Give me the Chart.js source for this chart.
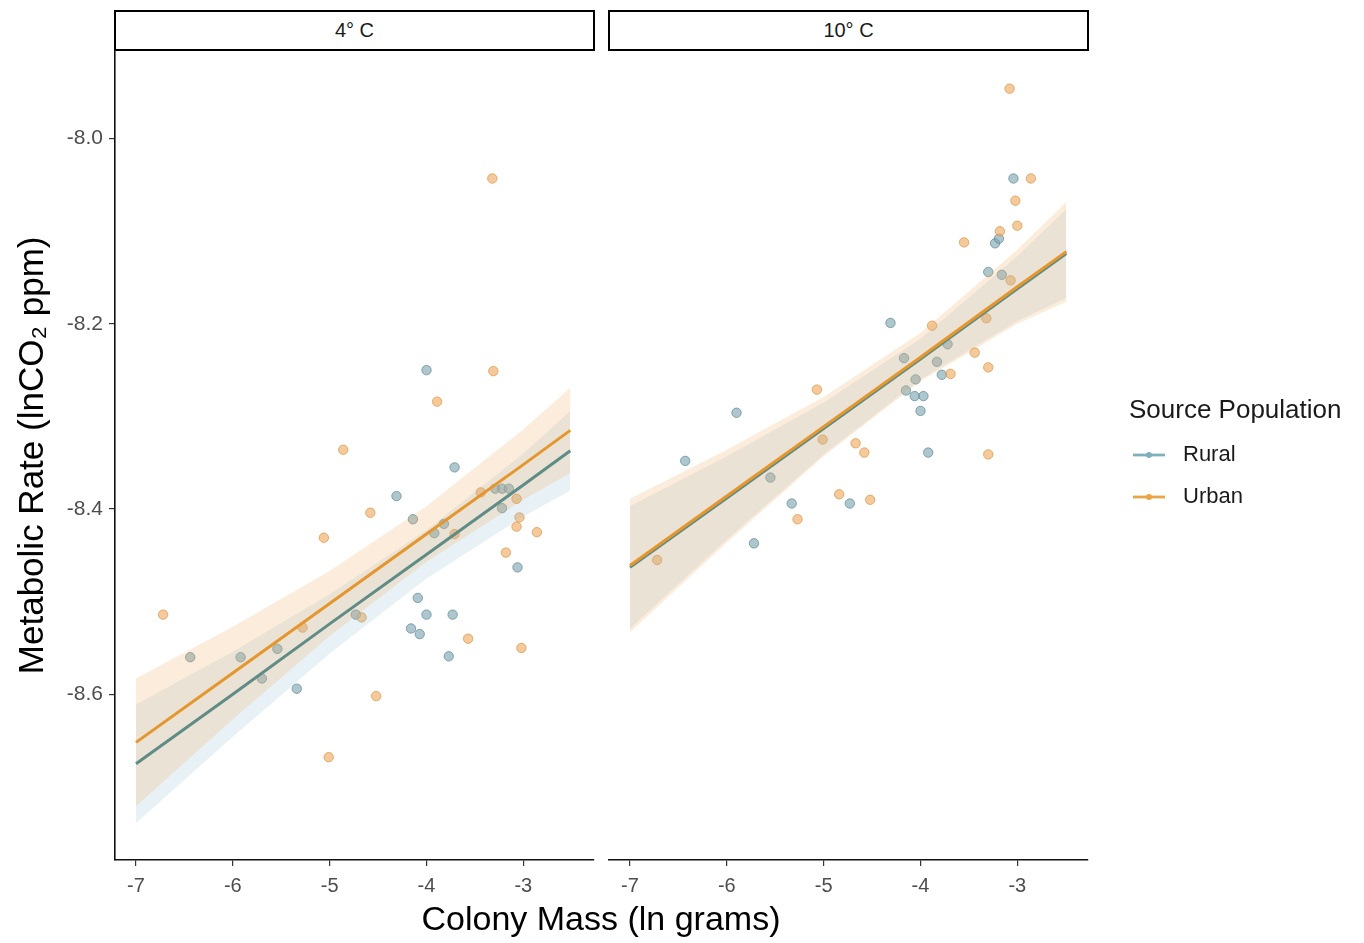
<!DOCTYPE html>
<html><head><meta charset="utf-8">
<script src="https://cdn.jsdelivr.net/npm/chart.js@4.4.0/dist/chart.umd.min.js"></script>
<style>
html,body{margin:0;padding:0;background:#fff;width:1364px;height:943px;overflow:hidden;font-family:"Liberation Sans",Arial,sans-serif;}
.strip{position:absolute;top:10px;height:41px;box-sizing:border-box;border:2px solid #000;display:flex;align-items:center;justify-content:center;font-size:20px;color:#1a1a1a;background:#fff}
#c1wrap{position:absolute;left:0;top:45px;width:600px;height:898px}
#c2wrap{position:absolute;left:600px;top:45px;width:764px;height:898px}
#xtitle{position:absolute;left:0;width:1202px;top:898px;line-height:40px;text-align:center;font-size:34px;color:#000}
</style></head>
<body>
<div class="strip" id="s1" style="left:114px;width:481px"></div>
<div class="strip" id="s2" style="left:608px;width:481px"></div>
<div id="c1wrap"><canvas id="c1" width="600" height="898"></canvas></div>
<div id="c2wrap"><canvas id="c2" width="764" height="898"></canvas></div>
<div id="xtitle"></div>
<script>
// ---- labels ----
const panelLabels = ['4° C', '10° C'];
const xTitle = 'Colony Mass (ln grams)';
const yTitle = 'Metabolic Rate (lnCO₂ ppm)';
const legendTitle = 'Source Population';
const seriesNames = ['Rural', 'Urban'];
const xTicks = [-7, -6, -5, -4, -3];
const yTicks = [-8.6, -8.4, -8.2, -8.0];

// ---- 4° C observations ----
const coldRuralX = [-6.44,-5.92,-5.70,-5.54,-5.34,-4.73,-4.31,-4.14,-4.16,-4.09,-4.07,-4.00,-4.00,-3.92,-3.82,-3.77,-3.73,-3.71,-3.29,-3.22,-3.15,-3.22,-3.06];
const coldRuralY = [-8.560,-8.560,-8.583,-8.551,-8.594,-8.514,-8.386,-8.411,-8.529,-8.496,-8.535,-8.250,-8.514,-8.426,-8.416,-8.559,-8.514,-8.355,-8.378,-8.378,-8.378,-8.399,-8.463];
const coldUrbanX = [-6.72,-5.28,-5.06,-5.01,-4.86,-4.67,-4.58,-4.52,-3.89,-3.71,-3.57,-3.44,-3.32,-3.31,-3.18,-3.07,-3.04,-3.07,-3.02,-2.86];
const coldUrbanY = [-8.514,-8.528,-8.431,-8.668,-8.336,-8.517,-8.404,-8.602,-8.284,-8.427,-8.540,-8.382,-8.043,-8.251,-8.447,-8.389,-8.409,-8.419,-8.550,-8.425];

// ---- 10° C observations ----
const warmRuralX = [-6.43,-5.90,-5.72,-5.55,-5.33,-4.73,-4.31,-4.17,-4.15,-4.06,-4.05,-4.00,-3.97,-3.92,-3.83,-3.78,-3.72,-3.30,-3.23,-3.19,-3.16,-3.04];
const warmRuralY = [-8.348,-8.296,-8.437,-8.366,-8.394,-8.394,-8.199,-8.237,-8.272,-8.278,-8.260,-8.294,-8.278,-8.339,-8.241,-8.255,-8.222,-8.144,-8.113,-8.108,-8.147,-8.043];
const warmUrbanX = [-6.72,-5.27,-5.07,-5.01,-4.84,-4.67,-4.58,-4.52,-3.88,-3.69,-3.55,-3.44,-3.32,-3.30,-3.30,-3.18,-3.08,-3.07,-3.02,-3.00,-2.86];
const warmUrbanY = [-8.455,-8.411,-8.271,-8.325,-8.384,-8.329,-8.339,-8.390,-8.202,-8.254,-8.112,-8.231,-8.194,-8.247,-8.341,-8.100,-7.946,-8.153,-8.067,-8.094,-8.043];

// ---- fitted lines and confidence bands ----
const coldFitX = [-7, -6, -5, -4, -3, -2.515];
const coldUrbanFit = [-8.652,-8.577,-8.502,-8.427,-8.352,-8.315];
const coldUrbanLo  = [-8.721,-8.627,-8.537,-8.457,-8.390,-8.361];
const coldUrbanHi  = [-8.583,-8.527,-8.467,-8.397,-8.314,-8.269];
const coldRuralFit = [-8.675,-8.600,-8.524,-8.449,-8.374,-8.337];
const coldRuralLo  = [-8.739,-8.646,-8.556,-8.475,-8.408,-8.380];
const coldRuralHi  = [-8.611,-8.554,-8.492,-8.423,-8.340,-8.294];

const warmFitX = [-7, -6, -5, -4, -3, -2.494];
const warmRuralFit = [-8.463,-8.388,-8.313,-8.238,-8.162,-8.124];
const warmRuralLo  = [-8.529,-8.433,-8.341,-8.260,-8.197,-8.172];
const warmRuralHi  = [-8.397,-8.343,-8.285,-8.216,-8.127,-8.076];
const warmUrbanFit = [-8.461,-8.386,-8.311,-8.236,-8.160,-8.122];
const warmUrbanLo  = [-8.533,-8.436,-8.343,-8.262,-8.200,-8.176];
const warmUrbanHi  = [-8.389,-8.336,-8.279,-8.210,-8.120,-8.068];

// ---- styles ----
const lineColors  = ['#5f8c86', '#e5962c'];
const legendLineColors = ['#7fb0bd', '#eaa547'];
const pointFill   = ['rgba(125,165,178,0.62)', 'rgba(238,170,95,0.62)'];
const pointBorder = ['rgba(100,140,152,0.75)', 'rgba(225,150,70,0.75)'];
const bandFill    = ['rgba(140,190,212,0.20)', 'rgba(240,170,90,0.22)'];
const FONT = '"Liberation Sans", Arial, sans-serif';

function pts(xs, ys){ return xs.map((x,i)=>({x:x, y:ys[i]})); }

document.getElementById('s1').textContent = panelLabels[0];
document.getElementById('s2').textContent = panelLabels[1];
document.getElementById('xtitle').textContent = xTitle;

function makeDatasets(fx, rFit, rLo, rHi, uFit, uLo, uHi, rx, ry, ux, uy){
  const lineDs = (d, c) => ({data:d, showLine:true, borderColor:c, borderWidth:3, pointRadius:0, fill:false, tension:0});
  return [
    lineDs(pts(fx,uFit), lineColors[1]),
    lineDs(pts(fx,rFit), lineColors[0]),
    {data:pts(fx,uHi), showLine:true, borderWidth:0, borderColor:'rgba(0,0,0,0)', pointRadius:0, fill:'+1', backgroundColor:bandFill[1]},
    {data:pts(fx,uLo), showLine:true, borderWidth:0, borderColor:'rgba(0,0,0,0)', pointRadius:0, fill:false},
    {data:pts(fx,rHi), showLine:true, borderWidth:0, borderColor:'rgba(0,0,0,0)', pointRadius:0, fill:'+1', backgroundColor:bandFill[0]},
    {data:pts(fx,rLo), showLine:true, borderWidth:0, borderColor:'rgba(0,0,0,0)', pointRadius:0, fill:false},
    {data:pts(ux,uy), pointRadius:4.7, backgroundColor:pointFill[1], borderColor:pointBorder[1], borderWidth:1},
    {data:pts(rx,ry), pointRadius:4.7, backgroundColor:pointFill[0], borderColor:pointBorder[0], borderWidth:1}
  ];
}

function xScale(){
  return {
    type:'linear', min:-7.217, max:-2.27,
    afterBuildTicks: s => { s.ticks = xTicks.map(v=>({value:v})); },
    ticks:{color:'#4d4d4d', font:{size:20, family:FONT}, padding:8, maxRotation:0, minRotation:0, autoSkip:false, callback:v=>String(v)},
    grid:{display:true, drawOnChartArea:false, drawTicks:true, tickLength:6, color:'#333', lineWidth:1.2},
    border:{display:true, color:'#111', width:1.6},
    afterFit: s => { s.height = 83; s.paddingLeft = 0; s.paddingRight = 0; }
  };
}

function yScale(show){
  return {
    type:'linear', min:-8.779, max:-7.905, display:show,
    afterBuildTicks: s => { s.ticks = yTicks.map(v=>({value:v})); },
    ticks:{color:'#4d4d4d', font:{size:21, family:FONT}, padding:6, autoSkip:false, callback:v=>Number(v).toFixed(1)},
    grid:{display:true, drawOnChartArea:false, drawTicks:true, tickLength:6, color:'#333', lineWidth:1.2},
    border:{display:true, color:'#111', width:1.6},
    title:{display:true, text:yTitle, color:'#000', font:{size:35, family:FONT}, padding:{top:12, bottom:0}},
    afterFit: s => { s.width = show ? 115 : 0; s.paddingTop = 0; s.paddingBottom = 0; }
  };
}

const legendPlugin = {
  id:'srcLegend',
  afterDraw(chart){
    const ctx = chart.ctx;
    const oy = 45;
    ctx.save();
    ctx.textBaseline = 'middle';
    ctx.textAlign = 'left';
    ctx.fillStyle = '#1a1a1a';
    ctx.font = '26px ' + FONT;
    ctx.fillText(legendTitle, 529, 411 - oy);
    ctx.font = '22px ' + FONT;
    seriesNames.forEach((name, i) => {
      const y = 455 - oy + i*42;
      ctx.strokeStyle = legendLineColors[i];
      ctx.lineWidth = 2.8;
      ctx.beginPath(); ctx.moveTo(533, y); ctx.lineTo(565, y); ctx.stroke();
      ctx.fillStyle = legendLineColors[i];
      ctx.beginPath(); ctx.arc(549, y, 3, 0, Math.PI*2); ctx.fill();
      ctx.fillStyle = '#1a1a1a';
      ctx.fillText(name, 583, y);
    });
    ctx.restore();
  }
};

const common = {
  responsive:false, animation:false,
  plugins:{legend:{display:false}, tooltip:{enabled:false}},
  events:[]
};

new Chart(document.getElementById('c1'), {
  type:'scatter',
  data:{datasets: makeDatasets(coldFitX, coldRuralFit, coldRuralLo, coldRuralHi, coldUrbanFit, coldUrbanLo, coldUrbanHi, coldRuralX, coldRuralY, coldUrbanX, coldUrbanY)},
  options:Object.assign({}, common, {
    layout:{padding:{left:0, right:6, top:0, bottom:0}},
    scales:{x:xScale(), y:yScale(true)}
  })
});

new Chart(document.getElementById('c2'), {
  type:'scatter',
  data:{datasets: makeDatasets(warmFitX, warmRuralFit, warmRuralLo, warmRuralHi, warmUrbanFit, warmUrbanLo, warmUrbanHi, warmRuralX, warmRuralY, warmUrbanX, warmUrbanY)},
  options:Object.assign({}, common, {
    layout:{padding:{left:9, right:276, top:0, bottom:0}},
    scales:{x:xScale(), y:yScale(false)}
  }),
  plugins:[legendPlugin]
});
</script>
</body></html>
